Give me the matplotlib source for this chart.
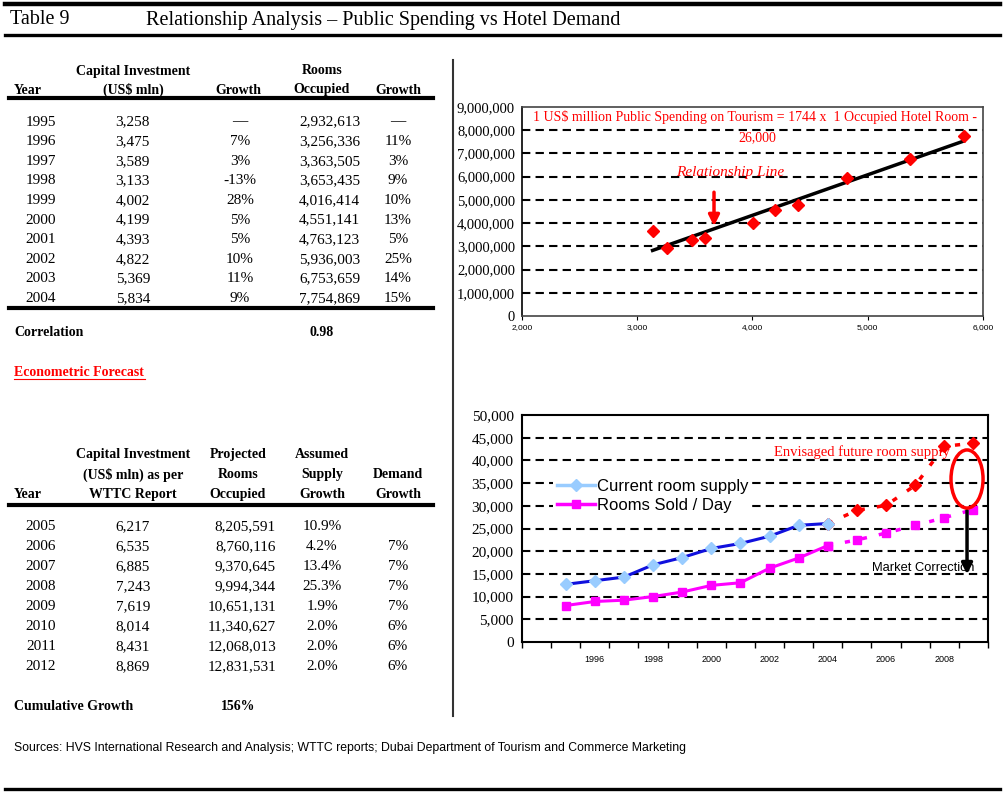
import numpy as np
import matplotlib
matplotlib.use("Agg")
import matplotlib.pyplot as plt
from matplotlib.lines import Line2D
from matplotlib.patches import Ellipse

# ---- data ----
years_hist = [1995, 1996, 1997, 1998, 1999, 2000, 2001, 2002, 2003, 2004]
capital_hist = [3258, 3475, 3589, 3133, 4002, 4199, 4393, 4822, 5369, 5834]
capital_growth = ["—", "7%", "3%", "-13%", "28%", "5%", "5%", "10%", "11%", "9%"]
rooms_hist = [2932613, 3256336, 3363505, 3653435, 4016414, 4551141,
              4763123, 5936003, 6753659, 7754869]
rooms_growth = ["—", "11%", "3%", "9%", "10%", "13%", "5%", "25%", "14%", "15%"]
correlation = "0.98"

years_fc = [2005, 2006, 2007, 2008, 2009, 2010, 2011, 2012]
capital_fc = [6217, 6535, 6885, 7243, 7619, 8014, 8431, 8869]
rooms_fc = [8205591, 8760116, 9370645, 9994344, 10651131, 11340627,
            12068013, 12831531]
supply_growth_fc = ["10.9%", "4.2%", "13.4%", "25.3%", "1.9%", "2.0%", "2.0%", "2.0%"]
demand_growth_fc = ["", "7%", "7%", "7%", "7%", "6%", "6%", "6%"]
cumulative_growth = "156%"

# line chart (rooms per day)
cat_labels = ["", "1995", "1996", "1997", "1998", "1999", "2000", "2001",
              "2002", "2003", "2004", "2005", "2006", "2007", "2008", "2009"]
supply_now = [12700, 13500, 14300, 17000, 18600, 20600, 21700, 23300, 25700, 26100]
sold_now = [8035, 8921, 9215, 10009, 11004, 12469, 13050, 16263, 18503, 21246]
supply_future = [26100, 29000, 30100, 34500, 43100, 43800]
sold_future = [21246, 22481, 24000, 25673, 27382, 29181]

W, H = 1004, 794
fig = plt.figure(figsize=(W / 100, H / 100), dpi=100)
SERIF = "Liberation Serif"
SANS = "Liberation Sans"


def fx(x):
    return x / W


def fy(y):
    return 1 - y / H


def txt(x, y, s, ha="left", size=11, weight="normal", color="black", family=SERIF, **kw):
    return fig.text(fx(x), fy(y), s, ha=ha, va="center", fontsize=size,
                    fontweight=weight, color=color, family=family, **kw)


def hline(x0, x1, y, lw, color="black"):
    fig.add_artist(Line2D([fx(x0), fx(x1)], [fy(y), fy(y)], color=color, lw=lw))


# ---- header / frame lines ----
hline(5, 1000, 4, 3.2)
hline(5, 1000, 35, 2.4)
hline(5, 1000, 789, 2.4)
fig.add_artist(Line2D([fx(453), fx(453)], [fy(60), fy(716)], color="#333333", lw=1.5))
txt(10, 20, "Table 9", size=14.5)
txt(146, 20, "Relationship Analysis – Public Spending vs Hotel Demand", size=14.5)

# ---- top table ----
txt(133, 71, "Capital Investment", ha="center", size=10, weight="bold")
txt(133, 90, "(US$ mln)", ha="center", size=10, weight="bold")
txt(14, 90, "Year", size=10, weight="bold")
txt(238, 90, "Growth", ha="center", size=10, weight="bold")
txt(322, 71, "Rooms", ha="center", size=10, weight="bold")
txt(322, 90, "Occupied", ha="center", size=10, weight="bold")
txt(398, 90, "Growth", ha="center", size=10, weight="bold")
hline(9, 433, 98, 3)
for i, yr in enumerate(years_hist):
    y = 122 + i * 19.6
    txt(41, y, str(yr), ha="center")
    txt(150, y, f"{capital_hist[i]:,}", ha="right")
    txt(240, y, capital_growth[i], ha="center")
    txt(360, y, f"{rooms_hist[i]:,}", ha="right")
    txt(398, y, rooms_growth[i], ha="center")
hline(9, 433, 308, 3)
txt(14, 332, "Correlation", size=10, weight="bold")
txt(322, 332, correlation, ha="center", size=10, weight="bold")
txt(14, 373, "Econometric Forecast", size=10, weight="bold", color="red")
hline(14, 145, 379, 0.8, color="red")

# ---- bottom table ----
for x, lines in [(133, ["Capital Investment", "(US$ mln) as per", "WTTC Report"]),
                 (238, ["Projected", "Rooms", "Occupied"]),
                 (322, ["Assumed", "Supply", "Growth"]),
                 (398, ["", "Demand", "Growth"])]:
    for j, s in enumerate(lines):
        txt(x, 455 + j * 19.5, s, ha="center", size=10, weight="bold")
txt(14, 494, "Year", size=10, weight="bold")
hline(9, 433, 505, 3)
for i, yr in enumerate(years_fc):
    y = 527 + i * 20
    txt(41, y, str(yr), ha="center")
    txt(150, y, f"{capital_fc[i]:,}", ha="right")
    txt(276, y, f"{rooms_fc[i]:,}", ha="right")
    txt(322, y, supply_growth_fc[i], ha="center")
    txt(408, y, demand_growth_fc[i], ha="right")
txt(14, 707, "Cumulative Growth", size=10, weight="bold")
txt(238, 707, cumulative_growth, ha="center", size=10, weight="bold")

txt(14, 748, "Sources: HVS International Research and Analysis; WTTC reports; "
    "Dubai Department of Tourism and Commerce Marketing", size=8.8, family=SANS)

# ---- scatter: capital vs rooms ----
ax1 = fig.add_axes([fx(522), fy(316), (983 - 522) / W, (316 - 107) / H])
ax1.set_xlim(2000, 6000)
ax1.set_ylim(0, 9000000)
ax1.set_xticks([2000, 3000, 4000, 5000, 6000])
ax1.set_xticklabels(["2,000", "3,000", "4,000", "5,000", "6,000"], family=SANS, fontsize=6)
ax1.set_yticks(np.arange(0, 9000001, 1000000))
ax1.set_yticklabels([f"{v:,}" for v in range(0, 9000001, 1000000)], family=SERIF, fontsize=10.5)
ax1.tick_params(axis="y", length=0, pad=5)
ax1.tick_params(axis="x", length=3, pad=3)
for v in range(1000000, 9000000, 1000000):
    ax1.axhline(v, color="black", lw=1.5, ls=(0, (4, 2.5)), zorder=1)
for s in ax1.spines.values():
    s.set_color("#444444")
    s.set_linewidth(1.2)
ax1.spines["left"].set_color("black")

x = np.array(capital_hist)
yv = np.array(rooms_hist)
slope, icpt = np.polyfit(x, yv, 1)
xl = np.array([x.min(), x.max()])
ax1.plot(xl, slope * xl + icpt, color="black", lw=2.5, zorder=3)
ax1.plot(x, yv, ls="none", marker="D", color="red", ms=6.5, zorder=4)
ax1.text(0.505, 0.952, "1 US$ million Public Spending on Tourism = 1744 x  1 Occupied Hotel Room -",
         transform=ax1.transAxes, ha="center", va="center", color="red", family=SERIF, fontsize=10)
ax1.text(0.51, 0.852, "26,000", transform=ax1.transAxes, ha="center", va="center",
         color="red", family=SERIF, fontsize=10)
ax1.text(3805, 6160000, "Relationship Line", ha="center", va="center", color="red",
         family=SERIF, style="italic", fontsize=11)
ax1.annotate("", xy=(3666, 3750000), xytext=(3666, 5450000),
             arrowprops=dict(arrowstyle="-|>", color="red", lw=2.5, mutation_scale=16))

# ---- line chart: supply vs rooms sold ----
ax2 = fig.add_axes([fx(522), fy(642), (988 - 522) / W, (642 - 415) / H])
n = len(cat_labels)
ax2.set_xlim(-0.5, n - 0.5)
ax2.set_ylim(0, 50000)
ax2.set_yticks(np.arange(0, 50001, 5000))
ax2.set_yticklabels([f"{v:,}" for v in range(0, 50001, 5000)], family=SERIF, fontsize=11)
ax2.tick_params(axis="y", length=0, pad=6)
ax2.set_xticks(range(0, n, 2))
ax2.set_xticklabels(cat_labels[::2], family=SANS, fontsize=6.5)
ax2.set_xticks(np.arange(-0.5, n, 1), minor=True)
ax2.tick_params(axis="x", which="major", length=0, pad=9)
ax2.tick_params(axis="x", which="minor", length=4, width=1, direction="out")
for v in range(5000, 50000, 5000):
    ax2.axhline(v, color="black", lw=1.5, ls=(0, (4, 2.5)), zorder=1)
for s in ax2.spines.values():
    s.set_color("black")
    s.set_linewidth(1.5)

idx_now = list(range(1, 11))
idx_fut = list(range(10, 16))
ax2.plot(idx_fut, supply_future, color="red", lw=2.5, ls=(0, (1.5, 3.5)),
         marker="D", ms=6, zorder=3)
ax2.plot(idx_fut, sold_future, color="#FF00FF", lw=2.5, ls=(0, (1.5, 3.5)),
         marker="s", ms=6, zorder=3)
ax2.plot(idx_now, supply_now, color="#1010DD", lw=2.2, marker="D", ms=6,
         mfc="#99CCFF", mec="#99CCFF", zorder=4)
ax2.plot(idx_now, sold_now, color="#FF00FF", lw=2.2, marker="s", ms=5.5,
         mfc="#FF00FF", mec="#FF00FF", zorder=4)

handles = [Line2D([], [], color="#99CCFF", lw=2.5, marker="D", ms=6),
           Line2D([], [], color="#FF00FF", lw=2.5, marker="s", ms=6)]
leg = ax2.legend(handles, ["Current room supply", "Rooms Sold / Day"],
                 loc="upper left", bbox_to_anchor=(0.049, 0.768), frameon=True,
                 edgecolor="none", fancybox=False, framealpha=1,
                 prop={"family": SANS, "size": 12}, handlelength=2.3,
                 handletextpad=0.1, labelspacing=0.2, borderpad=0.2)
leg.set_zorder(5)

ax2.add_patch(Ellipse((14.78, 35900), 1.1, 12800, fill=False, edgecolor="red", lw=2.5, zorder=6))
ax2.annotate("", xy=(14.78, 14300), xytext=(14.78, 29600),
             arrowprops=dict(arrowstyle="-|>", color="black", lw=2.5, mutation_scale=16))
ax2.text(13.27, 16300, "Market Correction", ha="center", va="center", family=SANS,
         fontsize=9.3, color="black", zorder=6)
ax2.text(11.17, 41850, "Envisaged future room supply", ha="center", va="center",
         family=SERIF, fontsize=10.5, color="red", zorder=6)

fig.savefig("out.png", dpi=100)
